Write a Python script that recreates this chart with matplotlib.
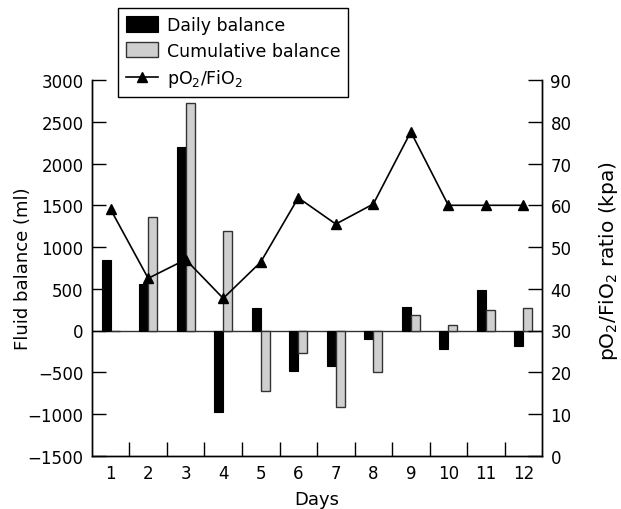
import matplotlib

matplotlib.use("Agg")
import matplotlib.pyplot as plt
import numpy as np

days = [1, 2, 3, 4, 5, 6, 7, 8, 9, 10, 11, 12]
daily_balance = [850, 560, 2200, -980, 270, -490, -420, -100, 280, -220, 490, -190]
cumulative_balance = [0, 1360, 2720, 1190, -730, -270, -920, -500, 190, 70, 250, 270]
po2_fio2 = [59.0, 42.5, 47.0, 37.7, 46.4, 61.8, 55.5, 60.3, 77.6, 60, 60, 60]

left_ticks = [-1500, -1000, -500, 0, 500, 1000, 1500, 2000, 2500, 3000]
right_ticks = [0, 10, 20, 30, 40, 50, 60, 70, 80, 90]

plt.rcParams["font.family"] = "DejaVu Sans"
plt.rcParams["font.size"] = 12
plt.rcParams["mathtext.default"] = "regular"

figure = plt.figure(figsize=(6.21, 5.10), dpi=100)
axis = figure.add_axes([0.148, 0.1045, 0.725, 0.7365])
axis_right = axis.twinx()

x = np.array(days)
width = 0.24
axis.bar(x - width / 2, daily_balance, width, color="black", edgecolor="black",
         linewidth=0.8, label="Daily balance", zorder=2)
axis.bar(x + width / 2, cumulative_balance, width, color="#cfcfcf", edgecolor="#333333",
         linewidth=1.0, label="Cumulative balance", zorder=2)
axis.axhline(0, color="#333333", linewidth=1.0, zorder=1)

axis_right.plot(x, po2_fio2, color="black", linewidth=1.2, marker="^", markersize=7.5,
                label="pO$_2$/FiO$_2$", zorder=3)

axis.set_xlim(0.5, 12.5)
axis.set_ylim(-1500, 3000)
axis_right.set_ylim(0, 90)
axis.set_yticks(left_ticks)
axis_right.set_yticks(right_ticks)

# ticks sit between days, labels sit on the day centres
axis.set_xticks(np.arange(1.5, 12.5, 1.0))
axis.set_xticklabels([])
axis.set_xticks(x, minor=True)
axis.set_xticklabels([str(d) for d in days], minor=True)
axis.tick_params(axis="x", which="major", direction="in", length=10, width=1)
axis.tick_params(axis="x", which="minor", length=0, pad=6, labelsize=12)
axis.tick_params(axis="y", direction="in", length=10, width=1, pad=6, labelsize=12)
axis_right.tick_params(axis="y", direction="in", length=10, width=1, pad=6, labelsize=12)

for ax in (axis, axis_right):
    ax.spines["top"].set_visible(False)
    for side in ("left", "right", "bottom"):
        ax.spines[side].set_linewidth(1.0)

axis.set_xlabel("Days", fontsize=13, labelpad=6)
axis.set_ylabel("Fluid balance (ml)", fontsize=13)
axis.yaxis.set_label_coords((32 - 92) / 450, 0.5)
axis_right.set_ylabel("pO$_2$/FiO$_2$ ratio (kpa)", fontsize=14.5)
axis_right.yaxis.set_label_coords((597 - 92) / 450, 0.52)

handles, labels = axis.get_legend_handles_labels()
handles_r, labels_r = axis_right.get_legend_handles_labels()
legend = figure.legend(handles + handles_r, labels + labels_r, loc="upper left",
                       bbox_to_anchor=(118 / 621, 1 - 9 / 510), borderaxespad=0,
                       frameon=True, fancybox=False, edgecolor="black", framealpha=1,
                       fontsize=12.5, handlelength=1.85, handleheight=1.0,
                       handletextpad=0.5, borderpad=0.45, labelspacing=0.45)
legend.get_frame().set_linewidth(1.0)

figure.savefig("out.png", dpi=100)
plt.close(figure)
